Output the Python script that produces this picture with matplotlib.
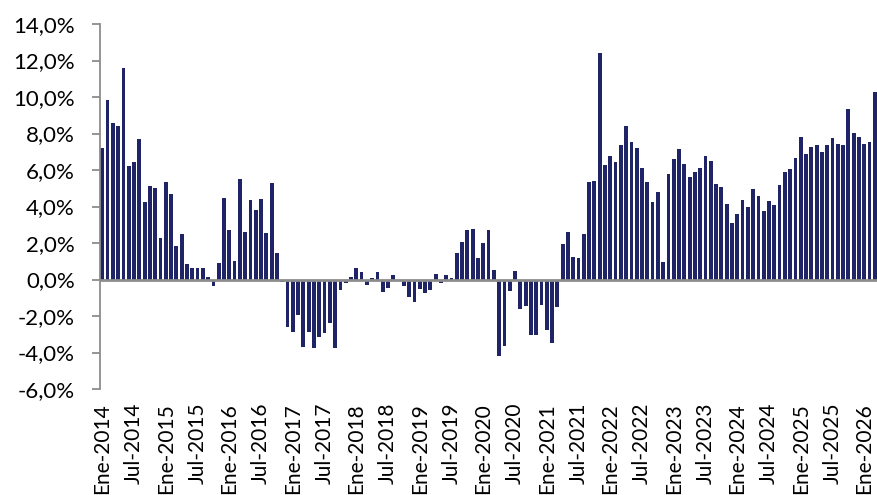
import matplotlib
matplotlib.use("Agg")
import matplotlib.pyplot as plt
from matplotlib.ticker import FuncFormatter, FixedLocator

# Monthly series, Ene-2014 .. Mar-2026 (percent)
values_2014_2016 = [7.20, 9.85, 8.60, 8.40, 11.58, 6.21, 6.43, 7.69, 4.24, 5.15, 5.00, 2.28,
                    5.33, 4.69, 1.84, 2.47, 0.86, 0.64, 0.64, 0.64, 0.16, -0.33, 0.91, 4.44,
                    2.70, 1.02, 5.52, 2.58, 4.33, 3.82, 4.40, 2.54, 5.28, 1.46, -0.12, -2.59]
values_2017_2019 = [-2.87, -1.94, -3.71, -2.89, -3.74, -3.16, -2.92, -2.41, -3.78, -0.58, -0.18, 0.16,
                    0.62, 0.42, -0.31, 0.09, 0.40, -0.71, -0.44, 0.27, -0.07, -0.33, -0.95, -1.22,
                    -0.51, -0.75, -0.57, 0.31, -0.18, 0.24, 0.06, 1.47, 2.06, 2.70, 2.79, 1.18]
values_2020_2022 = [1.99, 2.72, 0.53, -4.20, -3.63, -0.64, 0.45, -1.59, -1.44, -3.05, -3.03, -1.41,
                    -2.76, -3.49, -1.50, 1.97, 2.58, 1.22, 1.17, 2.49, 5.34, 5.42, 12.42, 6.30,
                    6.79, 6.45, 7.38, 8.40, 7.52, 7.20, 6.10, 5.33, 4.26, 4.81, 0.97, 5.77]
values_2023_2026 = [6.59, 7.14, 6.34, 5.64, 5.88, 6.12, 6.74, 6.50, 5.22, 5.08, 4.15, 3.11,
                    3.60, 4.33, 3.98, 4.95, 4.57, 3.78, 4.29, 4.09, 5.17, 5.90, 6.08, 6.68,
                    7.80, 6.90, 7.25, 7.36, 7.00, 7.36, 7.74, 7.43, 7.36, 9.33, 8.02, 7.82,
                    7.45, 7.52, 10.30]
values = values_2014_2016 + values_2017_2019 + values_2020_2022 + values_2023_2026

month_names = ["Ene", "Feb", "Mar", "Abr", "May", "Jun", "Jul", "Ago", "Sep", "Oct", "Nov", "Dic"]
categories = [f"{month_names[i % 12]}-{2014 + i // 12}" for i in range(len(values))]
tick_labels = [c for c in categories if c.startswith("Ene") or c.startswith("Jul")]
y_ticks = [-6, -4, -2, 0, 2, 4, 6, 8, 10, 12, 14]

plt.rcParams['font.family'] = ['Lato', 'DejaVu Sans']

fig = plt.figure(figsize=(8.78, 4.95), dpi=100)
ax = fig.add_axes([100 / 878, (495 - 389) / 495, 778 / 878, (389 - 24) / 495])

x = list(range(len(values)))
ax.bar(x, values, width=0.72, color="#1f2466", zorder=2)
ax.axhline(0, color="#8c8c8c", linewidth=2.0, zorder=3)

ax.set_ylim(-6, 14)
ax.set_xlim(-0.435, len(values) - 1 + 0.6)

ax.yaxis.set_major_locator(FixedLocator(y_ticks))
ax.yaxis.set_major_formatter(FuncFormatter(lambda v, p: f"{v:.1f}%".replace(".", ",")))

tick_pos = [categories.index(t) for t in tick_labels]
ax.set_xticks(tick_pos)
ax.set_xticklabels(tick_labels, rotation=90, va="top", ha="center")

for s in ["top", "right", "bottom"]:
    ax.spines[s].set_visible(False)
ax.spines["left"].set_color("#8c8c8c")
ax.spines["left"].set_linewidth(1.3)

ax.tick_params(axis="y", direction="out", length=6, width=1.3, color="#8c8c8c",
               pad=12, labelsize=16, labelcolor="black")
ax.tick_params(axis="x", length=0, pad=10, labelsize=15, labelcolor="black")

fig.savefig("out.png", dpi=100, facecolor="white")
